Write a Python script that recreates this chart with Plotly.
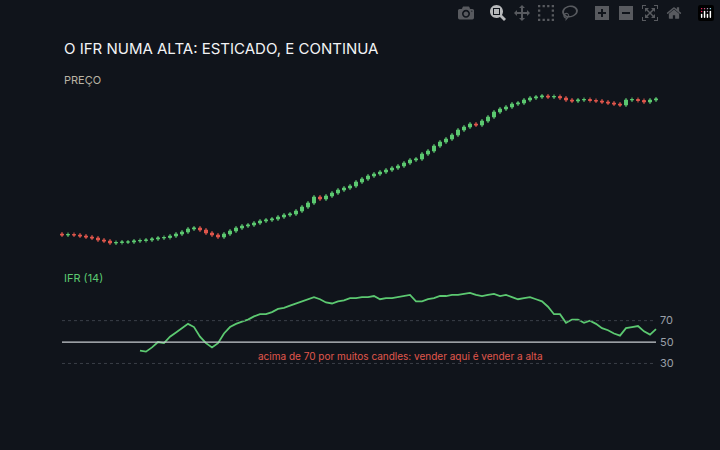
import plotly.graph_objects as go

closes = [65,65.5,65,64,63,62,60,59,57,57.5,58,58,59,59.5,60,61,62,62.5,64,66,
          68,71,72,70,67,65,63,66,69,72,74,75,77,79,80,81,83,85,86,89,
          93,97,103,101,104,107,110,112,114,118,121,124,126,128,130,132,134,137,140,141,
          146,149,154,158,161,165,170,173,176,175,179,183,188,191,193,196,197,200,202,203,
          204,203,203.5,202,200,199,200,200.5,199.5,199,198,197,196,195,200,200.5,199.5,198,200,201]
first_open = 66
rsi_start = 13
rsi = [42,41,45,50,49,55,59,63,67,64,55,49,45,49,58,64,67,69,71,74,
       76,76,78,81,82,84,86,88,90,92,90,87,86,88,89,91,91,92,92,93,
       90,91,91,92,93,94,88,88,90,91,93,93,94,94,95,96,94,93,94,95,
       93,94,92,90,91,92,90,88,83,76,76,68,71,71,68,70,67,63,61,58,
       56,63,64,65,60,57,62]
levels = [30, 50, 70]
title = "O IFR NUMA ALTA: ESTICADO, E CONTINUA"
note = "acima de 70 por muitos candles: vender aqui é vender a alta"

idx = list(range(len(closes)))
opens = [first_open] + closes[:-1]
highs = [max(o, c) + 2 for o, c in zip(opens, closes)]
lows = [min(o, c) - 2 for o, c in zip(opens, closes)]

BG = "#10141b"
GREEN = "#5cc971"
RED = "#e0574c"
GRAY = "#9aa0a8"

fig = go.Figure()
fig.add_trace(go.Candlestick(
    x=idx, open=opens, high=highs, low=lows, close=closes,
    increasing=dict(line=dict(color=GREEN, width=1), fillcolor=GREEN),
    decreasing=dict(line=dict(color=RED, width=1), fillcolor=RED),
    whiskerwidth=0, xaxis="x", yaxis="y", showlegend=False, hoverinfo="skip"))
fig.add_trace(go.Scatter(
    x=idx[rsi_start:rsi_start + len(rsi)], y=rsi, mode="lines",
    line=dict(color=GREEN, width=1.8), xaxis="x2", yaxis="y2",
    showlegend=False, hoverinfo="skip"))

for lv in levels:
    fig.add_shape(type="line", xref="x2 domain", yref="y2", x0=0.005, x1=0.995, y0=lv, y1=lv,
                  line=dict(color="#c8ccd2" if lv == 50 else "#3a3f48",
                            width=1.2 if lv == 50 else 1, dash="solid" if lv == 50 else "dot"))

xd = [59/720, 659/720]
fig.update_layout(
    width=720, height=450, paper_bgcolor=BG, plot_bgcolor=BG,
    margin=dict(l=0, r=0, t=0, b=0),
    font=dict(family="Inter, Roboto, sans-serif", color=GRAY),
    xaxis=dict(domain=xd, range=[-0.5, 99.5], visible=False, rangeslider=dict(visible=False)),
    yaxis=dict(domain=[1-250/450, 1-90/450], range=[50, 210], visible=False),
    xaxis2=dict(domain=xd, range=[-0.5, 99.5], visible=False, anchor="y2"),
    yaxis2=dict(domain=[1-375/450, 1-285/450], range=[19.2, 103.3], anchor="x2",
                side="right", tickvals=levels, showgrid=False, zeroline=False,
                showline=False, ticks="", tickfont=dict(size=11, color=GRAY)),
    annotations=[
        dict(text=title, x=62/720, y=1-48/450, xref="paper", yref="paper", xanchor="left",
             yanchor="middle", showarrow=False, font=dict(size=15, color="#f2f3f5")),
        dict(text="PREÇO", x=62/720, y=1-80/450, xref="paper", yref="paper", xanchor="left",
             yanchor="middle", showarrow=False, font=dict(size=11, color="#b9b3a4")),
        dict(text="IFR (14)", x=62/720, y=1-278/450, xref="paper", yref="paper", xanchor="left",
             yanchor="middle", showarrow=False, font=dict(size=11, color=GREEN)),
        dict(text=note, x=400/720, y=1-356/450, xref="paper", yref="paper", xanchor="center",
             yanchor="middle", showarrow=False, font=dict(size=10, color=RED)),
    ])
fig.write_html("out.html")
with open("out.html", encoding="utf-8") as f:
    html = f.read()
html = html.replace("<body>", "<body style=\"margin:0;background:#10141b;overflow:hidden\">", 1)
with open("out.html", "w", encoding="utf-8") as f:
    f.write(html)
